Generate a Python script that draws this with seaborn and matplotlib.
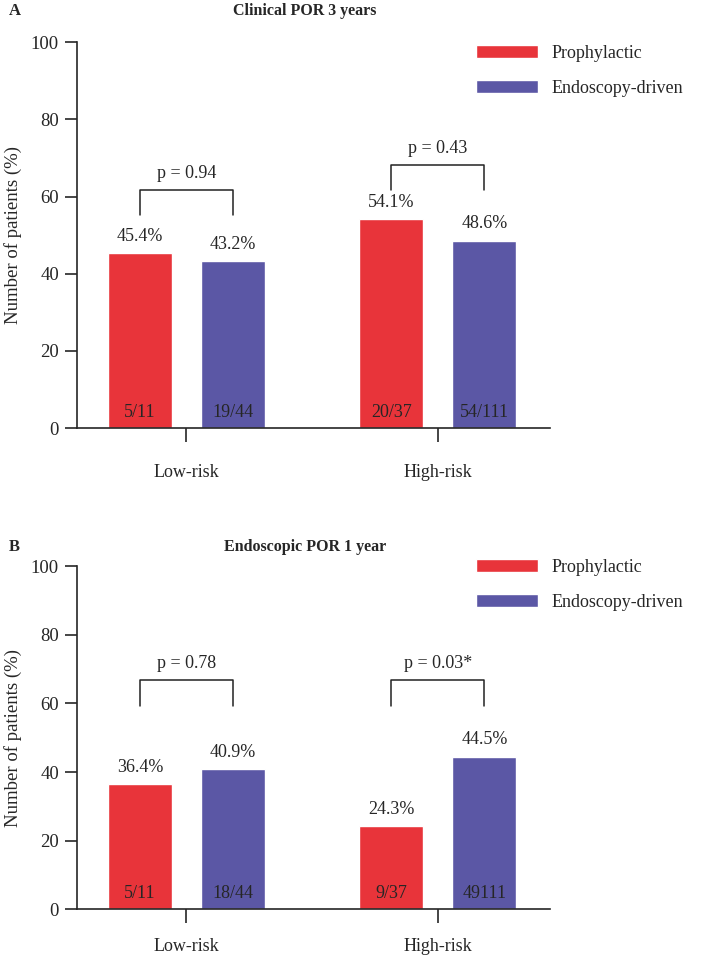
import numpy as np
import pandas as pd
import matplotlib
matplotlib.use("Agg")
import matplotlib.pyplot as plt
import seaborn as sns

# ─────────────────────────────────────────────
# Data
# ─────────────────────────────────────────────

groups = ["Low-risk", "High-risk"]
arms = ["Prophylactic", "Endoscopy-driven"]

# Panel A: clinical POR at 3 years
clin_prophylactic = [45.4, 54.1]
clin_endoscopy = [43.2, 48.6]
clin_counts_prophylactic = ["5/11", "20/37"]
clin_counts_endoscopy = ["19/44", "54/111"]
clin_pvalues = ["p = 0.94", "p = 0.43"]

# Panel B: endoscopic POR at 1 year
endo_prophylactic = [36.4, 24.3]
endo_endoscopy = [40.9, 44.5]
endo_counts_prophylactic = ["5/11", "9/37"]
endo_counts_endoscopy = ["18/44", "49111"]
endo_pvalues = ["p = 0.78", "p = 0.03*"]

PALETTE = {"Prophylactic": "#e8343a", "Endoscopy-driven": "#5b57a5"}


def make_frame(prophylactic, endoscopy):
    return pd.DataFrame({
        "group": groups * 2,
        "arm": [arms[0]] * 2 + [arms[1]] * 2,
        "value": list(prophylactic) + list(endoscopy),
    })


# ─────────────────────────────────────────────
# Plot helpers
# ─────────────────────────────────────────────

def draw_panel(ax, df, counts_a, counts_b, pvalues, bracket_low, bracket_high,
               legend_y, xpad):
    sns.barplot(
        data=df, x="group", y="value", hue="arm", hue_order=arms,
        order=groups, palette=PALETTE, width=0.74, gap=0.31,
        saturation=1, ax=ax, errorbar=None,
    )
    ax.set_ylim(0, 100)
    ax.set_xlim(-0.435, 1.445)
    ax.set_yticks([0, 20, 40, 60, 80, 100])
    ax.set_xlabel("")
    ax.set_ylabel("Number of patients (%)", fontsize=13.5, labelpad=6)
    sns.despine(ax=ax)
    for s in ["left", "bottom"]:
        ax.spines[s].set_linewidth(1.2)
    ax.tick_params(axis="y", length=9, width=1.2, labelsize=13.5, pad=4)
    ax.tick_params(axis="x", length=10, width=1.2, labelsize=13, pad=xpad)

    counts = [counts_a, counts_b]
    centers = []
    for ci, cont in enumerate(ax.containers):
        for bi, bar in enumerate(cont):
            cx = bar.get_x() + bar.get_width() / 2
            h = bar.get_height()
            ax.annotate(f"{h:.1f}%", (cx, h), xytext=(0, 6), textcoords="offset points",
                        ha="center", va="bottom", fontsize=13)
            ax.annotate(counts[ci][bi], (cx, 0), xytext=(0, 5), textcoords="offset points",
                        ha="center", va="bottom", fontsize=13)
        centers.append([b.get_x() + b.get_width() / 2 for b in cont])

    for gi, (low, high) in enumerate([bracket_low, bracket_high]):
        x0, x1 = centers[0][gi], centers[1][gi]
        ax.plot([x0, x0, x1, x1], [low, high, high, low], color="#222222", lw=1.1)
        ax.annotate(pvalues[gi], ((x0 + x1) / 2, high), xytext=(0, 6),
                    textcoords="offset points", ha="center", va="bottom", fontsize=13)

    handles, labels = ax.get_legend_handles_labels()
    ax.legend(handles, labels, loc="upper left", bbox_to_anchor=(0.81, legend_y),
              frameon=False, fontsize=13, handlelength=3.4, handleheight=0.75,
              labelspacing=1.0, handletextpad=0.8)


# ─────────────────────────────────────────────
# Figure
# ─────────────────────────────────────────────

sns.set_theme(style="ticks")
plt.rcParams["font.family"] = ["Liberation Serif", "DejaVu Serif"]

fig = plt.figure(figsize=(7.13, 9.6), dpi=100)
ax_a = fig.add_axes([0.108, 0.554, 0.663, 0.402])
ax_b = fig.add_axes([0.108, 0.053, 0.663, 0.357])

draw_panel(ax_a, make_frame(clin_prophylactic, clin_endoscopy),
           clin_counts_prophylactic, clin_counts_endoscopy, clin_pvalues,
           (55.2, 61.7), (61.7, 68.1), legend_y=1.035, xpad=16)
draw_panel(ax_b, make_frame(endo_prophylactic, endo_endoscopy),
           endo_counts_prophylactic, endo_counts_endoscopy, endo_pvalues,
           (59.3, 66.9), (59.3, 66.9), legend_y=1.07, xpad=11)

fig.text(0.012, 0.997, "A", fontsize=12, fontweight="bold", va="top")
fig.text(0.428, 0.997, "Clinical POR 3 years", fontsize=11.5, fontweight="bold",
         va="top", ha="center")
fig.text(0.012, 0.439, "B", fontsize=12, fontweight="bold", va="top")
fig.text(0.428, 0.439, "Endoscopic POR 1 year", fontsize=11.5, fontweight="bold",
         va="top", ha="center")

fig.savefig("out.png", dpi=100)
